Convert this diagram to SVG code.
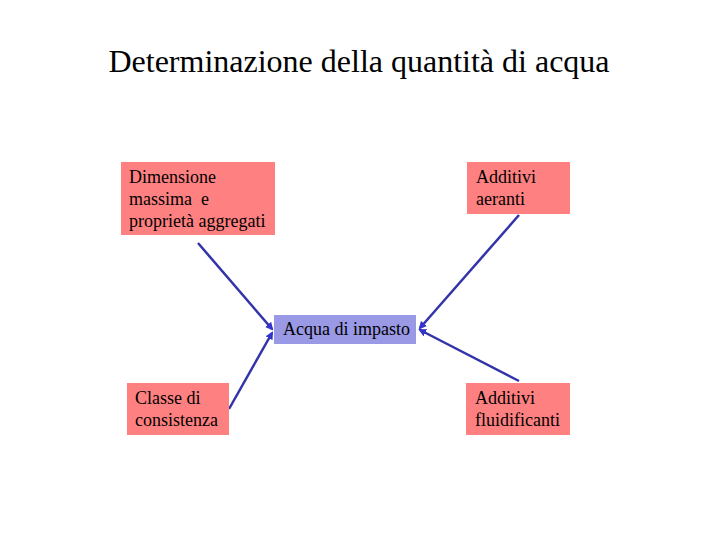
<svg xmlns="http://www.w3.org/2000/svg" width="720" height="540" viewBox="0 0 720 540">
<style>
text{font-family:'Liberation Serif','Times New Roman','DejaVu Serif',serif;fill:#000}
.lbl{font-size:18px}
.box{fill:#FF8080}
.c{stroke:#3333AA;stroke-width:2.5;fill:none}
</style>
<defs>
<marker id="ah" markerWidth="8" markerHeight="8" refX="6" refY="4" orient="auto" markerUnits="userSpaceOnUse">
<path d="M0,0 L8,4 L0,8 z" fill="#3333CC"/>
</marker>
</defs>
<rect width="720" height="540" fill="#fff"/>
<text x="359" y="72" font-size="32" text-anchor="middle" font-family="Liberation Serif, serif">Determinazione della quantità di acqua</text>
<g id="connectors">
<line class="c" x1="198" y1="243" x2="272" y2="329" marker-end="url(#ah)"/>
<line class="c" x1="229" y1="409" x2="272" y2="333" marker-end="url(#ah)"/>
<line class="c" x1="519" y1="215" x2="420" y2="328" marker-end="url(#ah)"/>
<line class="c" x1="519" y1="381" x2="420" y2="330" marker-end="url(#ah)"/>
</g>
<g id="n1">
<rect class="box" x="121" y="162" width="154" height="73"/>
<text class="lbl" x="129" y="183">Dimensione</text>
<text class="lbl" x="129" y="205" xml:space="preserve">massima  e</text>
<text class="lbl" x="129" y="227">proprietà aggregati</text>
</g>
<g id="n2">
<rect class="box" x="467" y="162" width="103" height="52"/>
<text class="lbl" x="476" y="183">Additivi</text>
<text class="lbl" x="476" y="205">aeranti</text>
</g>
<g id="n3">
<rect x="274" y="315" width="142" height="29" fill="#9999E6"/>
<text class="lbl" x="283" y="335">Acqua di impasto</text>
</g>
<g id="n4">
<rect class="box" x="127" y="383" width="102" height="52"/>
<text class="lbl" x="135" y="404">Classe di</text>
<text class="lbl" x="135" y="426">consistenza</text>
</g>
<g id="n5">
<rect class="box" x="466" y="383" width="104" height="52"/>
<text class="lbl" x="475" y="404">Additivi</text>
<text class="lbl" x="475" y="426">fluidificanti</text>
</g>
</svg>
